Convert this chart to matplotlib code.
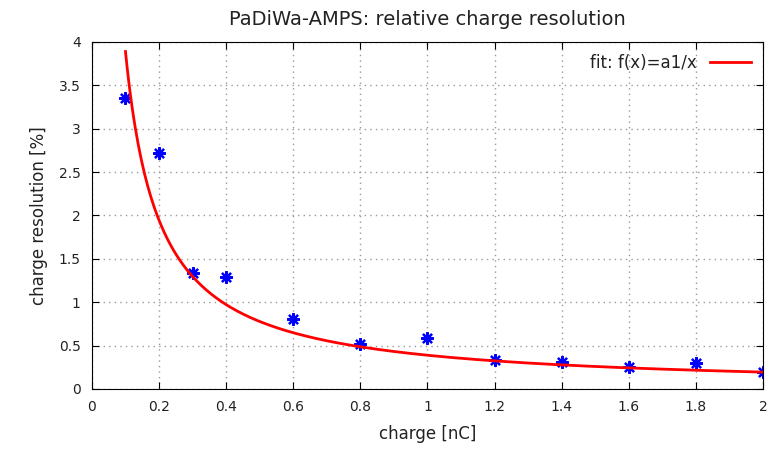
import matplotlib
matplotlib.use("Agg")
import matplotlib.pyplot as plt
import numpy as np

# measured points
charge = [0.1, 0.2, 0.3, 0.4, 0.6, 0.8, 1.0, 1.2, 1.4, 1.6, 1.8, 2.0]
resolution = [3.35, 2.72, 1.34, 1.29, 0.81, 0.52, 0.59, 0.33, 0.31, 0.25, 0.30, 0.20]

# fit f(x) = a1/x
a1 = 0.389
fit_x = np.linspace(0.1, 2.0, 400)
fit_y = a1 / fit_x

plt.rcParams['font.family'] = ['DejaVu Sans']

fig = plt.figure(figsize=(7.79, 4.5), dpi=100)
ax = fig.add_axes([0.118, 0.1356, 0.8615, 0.7711])

ax.plot(charge, resolution, linestyle='none', marker=(8, 2, 0), markersize=9,
        markeredgewidth=1.6, color='#0000ff')
ax.plot(fit_x, fit_y, color='#ff0000', linewidth=2, label='fit: f(x)=a1/x')

ax.set_xlim(0, 2)
ax.set_ylim(0, 4)
ax.set_xticks(np.arange(0, 2.01, 0.2))
ax.set_xticklabels(['0', '0.2', '0.4', '0.6', '0.8', '1', '1.2', '1.4', '1.6', '1.8', '2'])
ax.set_yticks(np.arange(0, 4.01, 0.5))
ax.set_yticklabels(['0', '0.5', '1', '1.5', '2', '2.5', '3', '3.5', '4'])
ax.tick_params(direction='in', top=True, right=True, length=5, labelsize=10, pad=8,
               labelcolor='#222222')
ax.grid(True, linestyle=(0, (1, 3)), color='#999999', linewidth=1)

ax.set_xlabel('charge [nC]', fontsize=12, labelpad=8, color='#222222')
ax.set_ylabel('charge resolution [%]', fontsize=12, labelpad=8, color='#222222')
ax.set_title('PaDiWa-AMPS: relative charge resolution', fontsize=14, pad=12,
             color='#222222')

leg = ax.legend(loc='upper right', frameon=False, markerfirst=False, fontsize=12,
                handlelength=2.5, borderaxespad=0.3)
for t in leg.get_texts():
    t.set_color('#222222')

fig.savefig('out.png', dpi=100)
